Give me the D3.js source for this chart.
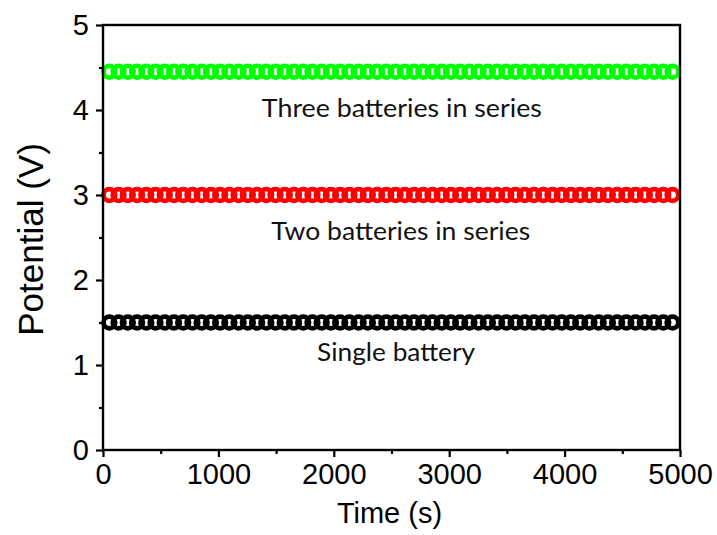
<!DOCTYPE html>
<html>
<head>
<meta charset="utf-8">
<script src="https://cdn.jsdelivr.net/npm/d3@7/dist/d3.min.js"></script>
<style>
  html, body { margin: 0; padding: 0; background: #fff; }
  svg { display: block; }
</style>
</head>
<body>
<svg id="chart" width="717" height="535"></svg>
<script>
// Sampling times (s)
const times = [55,135,215,295,375,455,535,615,695,775,855,935,1015,1095,1175,1255,1335,1415,1495,1575,1655,1735,1815,1895,1975,2055,2135,2215,2295,2375,2455,2535,2615,2695,2775,2855,2935,3015,3095,3175,3255,3335,3415,3495,3575,3655,3735,3815,3895,3975,4055,4135,4215,4295,4375,4455,4535,4615,4695,4775,4855,4935];

// Potential (V) recorded at each time
const singleBattery = [1.5,1.5,1.5,1.5,1.5,1.5,1.5,1.5,1.5,1.5,1.5,1.5,1.5,1.5,1.5,1.5,1.5,1.5,1.5,1.5,1.5,1.5,1.5,1.5,1.5,1.5,1.5,1.5,1.5,1.5,1.5,1.5,1.5,1.5,1.5,1.5,1.5,1.5,1.5,1.5,1.5,1.5,1.5,1.5,1.5,1.5,1.5,1.5,1.5,1.5,1.5,1.5,1.5,1.5,1.5,1.5,1.5,1.5,1.5,1.5,1.5,1.5];
const twoBatteries = [3.0,3.0,3.0,3.0,3.0,3.0,3.0,3.0,3.0,3.0,3.0,3.0,3.0,3.0,3.0,3.0,3.0,3.0,3.0,3.0,3.0,3.0,3.0,3.0,3.0,3.0,3.0,3.0,3.0,3.0,3.0,3.0,3.0,3.0,3.0,3.0,3.0,3.0,3.0,3.0,3.0,3.0,3.0,3.0,3.0,3.0,3.0,3.0,3.0,3.0,3.0,3.0,3.0,3.0,3.0,3.0,3.0,3.0,3.0,3.0,3.0,3.0];
const threeBatteries = [4.45,4.45,4.45,4.45,4.45,4.45,4.45,4.45,4.45,4.45,4.45,4.45,4.45,4.45,4.45,4.45,4.45,4.45,4.45,4.45,4.45,4.45,4.45,4.45,4.45,4.45,4.45,4.45,4.45,4.45,4.45,4.45,4.45,4.45,4.45,4.45,4.45,4.45,4.45,4.45,4.45,4.45,4.45,4.45,4.45,4.45,4.45,4.45,4.45,4.45,4.45,4.45,4.45,4.45,4.45,4.45,4.45,4.45,4.45,4.45,4.45,4.45];

const seriesNames = ["Single battery", "Two batteries in series", "Three batteries in series"];
const seriesColors = ["#000000", "#ff0000", "#00ff00"];

// Axis ticks
const xTicks = [0, 1000, 2000, 3000, 4000, 5000];
const xMinorTicks = [500, 1500, 2500, 3500, 4500];
const yTicks = [0, 1, 2, 3, 4, 5];
const yMinorTicks = [0.5, 1.5, 2.5, 3.5, 4.5];

// Annotation anchors (time, potential)
const labelAnchors = [[2540, 1.05], [2580, 2.47], [2590, 3.92]];

const svg = d3.select("#chart");
const margin = { left: 103, right: 37, top: 25, bottom: 85 };
const W = 717, H = 535;

const x = d3.scaleLinear().domain([0, 5000]).range([margin.left, W - margin.right]);
const y = d3.scaleLinear().domain([0, 5]).range([H - margin.bottom, margin.top]);

const series = [singleBattery, twoBatteries, threeBatteries];

// Markers: open circles with thick, overlapping rings
series.forEach((vals, i) => {
  svg.append("g")
    .selectAll("circle")
    .data(times.map((t, k) => [t, vals[k]]))
    .join("circle")
    .attr("cx", d => x(d[0]))
    .attr("cy", d => y(d[1]))
    .attr("r", 5.8)
    .attr("fill", "none")
    .attr("stroke", seriesColors[i])
    .attr("stroke-width", 4.8);
});

// Frame
svg.append("rect")
  .attr("x", x(0)).attr("y", y(5))
  .attr("width", x(5000) - x(0)).attr("height", y(0) - y(5))
  .attr("fill", "none").attr("stroke", "#000").attr("stroke-width", 2.4);

const tickFont = "'Liberation Sans', Arial, sans-serif";

// X axis
const xAxis = svg.append("g")
  .attr("transform", `translate(0,${y(0)})`)
  .call(d3.axisBottom(x).tickValues(xTicks).tickSize(7).tickPadding(6).tickFormat(d3.format("d")));
xAxis.select(".domain").remove();
xAxis.selectAll(".tick line").attr("stroke-width", 2.2);
xAxis.selectAll("text").attr("font-family", tickFont).attr("font-size", 29).attr("fill", "#000");

const xMinor = svg.append("g")
  .attr("transform", `translate(0,${y(0)})`)
  .call(d3.axisBottom(x).tickValues(xMinorTicks).tickSize(4).tickFormat(""));
xMinor.select(".domain").remove();
xMinor.selectAll(".tick line").attr("stroke-width", 2.2);

// Y axis
const yAxis = svg.append("g")
  .attr("transform", `translate(${x(0)},0)`)
  .call(d3.axisLeft(y).tickValues(yTicks).tickSize(7).tickPadding(7).tickFormat(d3.format("d")));
yAxis.select(".domain").remove();
yAxis.selectAll(".tick line").attr("stroke-width", 2.2);
yAxis.selectAll("text").attr("font-family", tickFont).attr("font-size", 29).attr("fill", "#000");

const yMinor = svg.append("g")
  .attr("transform", `translate(${x(0)},0)`)
  .call(d3.axisLeft(y).tickValues(yMinorTicks).tickSize(4).tickFormat(""));
yMinor.select(".domain").remove();
yMinor.selectAll(".tick line").attr("stroke-width", 2.2);

// Axis titles
svg.append("text")
  .attr("x", (x(0) + x(5000)) / 2 - 2)
  .attr("y", 523)
  .attr("text-anchor", "middle")
  .attr("font-family", tickFont)
  .attr("font-size", 29)
  .text("Time (s)");

svg.append("text")
  .attr("transform", `translate(43,${(y(0) + y(5)) / 2 + 2}) rotate(-90)`)
  .attr("text-anchor", "middle")
  .attr("font-family", tickFont)
  .attr("font-size", 35)
  .text("Potential (V)");

// Series annotations
const labelWidths = [158, 259, 280];
svg.append("g")
  .selectAll("text")
  .data(seriesNames)
  .join("text")
  .attr("x", (d, i) => x(labelAnchors[i][0]))
  .attr("y", (d, i) => y(labelAnchors[i][1]))
  .attr("text-anchor", "middle")
  .attr("font-family", "Lato, 'Open Sans', sans-serif")
  .attr("font-size", 25)
  .attr("textLength", (d, i) => labelWidths[i])
  .attr("lengthAdjust", "spacingAndGlyphs")
  .attr("fill", "#111")
  .text(d => d);
</script>
</body>
</html>
